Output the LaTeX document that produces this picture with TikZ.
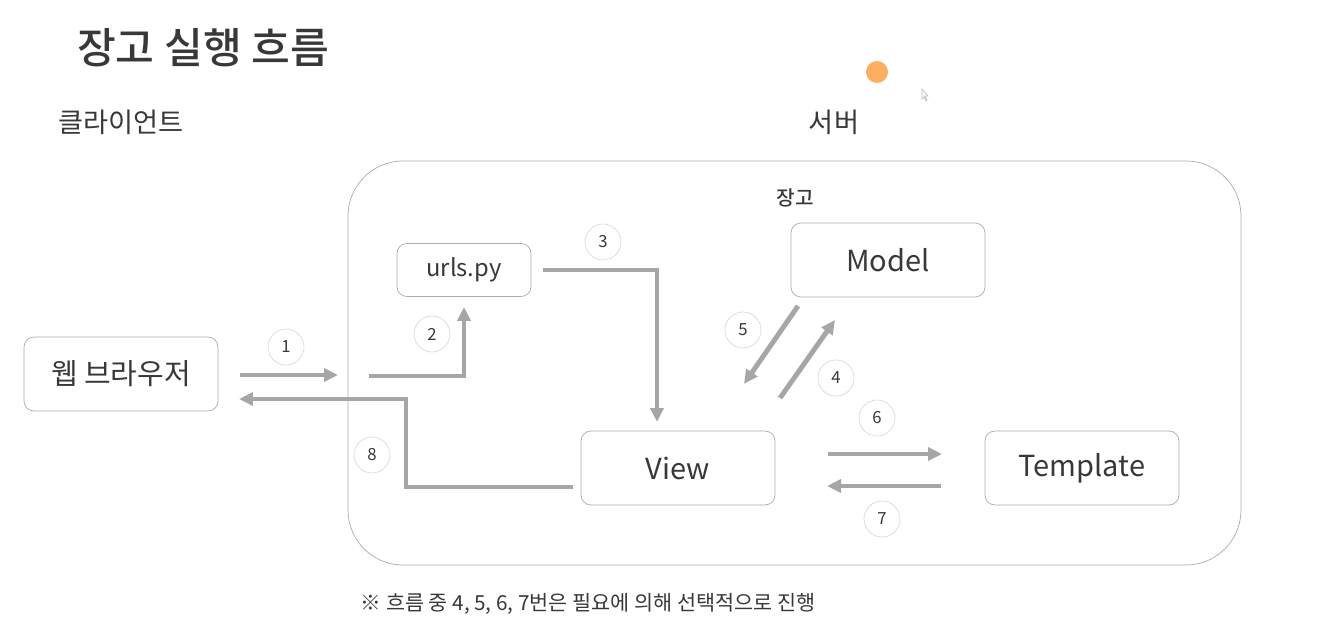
\documentclass[tikz,border=0pt]{standalone}
\usepackage{fontspec}
\setmainfont{Noto Sans CJK KR}
\newfontfamily\midfont{Noto Sans CJK KR Medium}
\usetikzlibrary{arrows.meta}
\definecolor{flowgray}{HTML}{A6A6A6}
\definecolor{edgegray}{HTML}{ABABAB}
\definecolor{txtgray}{HTML}{383838}
\definecolor{dotorange}{HTML}{FDAE62}
\tikzset{
  box/.style={draw=edgegray, rounded corners=0.2cm, minimum width=3.88cm,
    minimum height=1.48cm, inner sep=0pt, text=txtgray,
    font=\fontsize{16.5}{18}\selectfont},
  num/.style={circle, draw=gray!30, minimum size=0.72cm, inner sep=0pt,
    text=txtgray, font=\fontsize{9.5}{10}\selectfont},
  flow/.style={draw=flowgray, line width=2.8pt,
    -{Triangle[length=0.28cm, width=0.26cm]}},
}
\begin{document}
\begin{tikzpicture}[x=0.02cm, y=-0.02cm]
    \useasboundingbox (0,0) rectangle (1319,635);

    \node[text=txtgray, font=\fontsize{24}{28}\selectfont\midfont] (title) at (203,48) {장고 실행 흐름};
    \node[text=txtgray, font=\fontsize{15.5}{17}\selectfont] (client) at (121,122) {클라이언트};
    \node[text=txtgray, font=\fontsize{15.5}{17}\selectfont] (server) at (834,122) {서버};

    \fill[dotorange] (877,72) circle(11);
    \draw[gray!50, line width=0.4pt, fill=white] (922,89) -- (922,99) -- (924,97) -- (926,101) -- (927,100) -- (925,96) -- (928,96) -- cycle;

    \draw[edgegray] (348,161) [rounded corners=1.1cm] rectangle (1241,565);
    \node[text=txtgray, font=\fontsize{11.5}{13}\selectfont\midfont] (django) at (795,198) {장고};

    \node[box, minimum width=2.68cm, minimum height=1.06cm, font=\fontsize{13.5}{15}\selectfont] (urls) at (464,270) {urls.py};
    \node[box] (model)    at (888,260) {Model};
    \node[box] (browser)  at (121,374) {웹 브라우저};
    \node[box] (view)     at (678,468) {View};
    \node[box] (template) at (1082,468) {Template};

    \node[num] (n1) at (286,347) {1};
    \node[num] (n2) at (432,334) {2};
    \node[num] (n3) at (603,242) {3};
    \node[num] (n4) at (836,378) {4};
    \node[num] (n5) at (743,330) {5};
    \node[num] (n6) at (877,418) {6};
    \node[num] (n7) at (882,519) {7};
    \node[num] (n8) at (372,455) {8};

    \coordinate (a1) at (240,375);  \coordinate (b1) at (338,375);
    \coordinate (a2) at (369,376);  \coordinate (b2) at (464,307);
    \coordinate (a3) at (543,270);  \coordinate (b3) at (657,422);
    \coordinate (a4) at (780,398);  \coordinate (b4) at (835,320);
    \coordinate (a5) at (798,306);  \coordinate (b5) at (744,384);
    \coordinate (a6) at (828,454);  \coordinate (b6) at (942,454);
    \coordinate (a7) at (941,486);  \coordinate (b7) at (827,486);
    \coordinate (a8) at (573,487);  \coordinate (b8) at (239,399);

    \draw[flow] (a1) -- (b1);
    \draw[flow] (a2) -| (b2);
    \draw[flow] (a3) -| (b3);
    \draw[flow] (a4) -- (b4);
    \draw[flow] (a5) -- (b5);
    \draw[flow] (a6) -- (b6);
    \draw[flow] (a7) -- (b7);
    \draw[flow] (a8) -- (406,487) |- (b8);

    \node[text=txtgray, font=\fontsize{11.8}{14}\selectfont] (note) at (588,604) {※ 흐름 중 4, 5, 6, 7번은 필요에 의해 선택적으로 진행};
\end{tikzpicture}
\end{document}
